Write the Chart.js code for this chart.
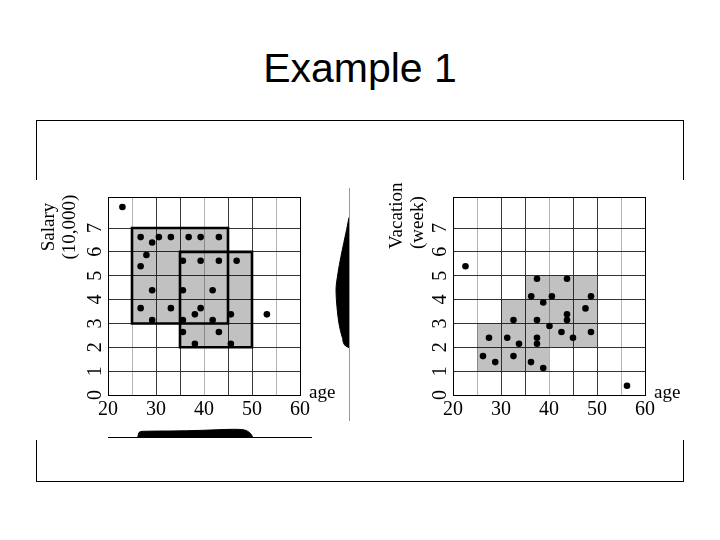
<!DOCTYPE html>
<html>
<head>
<meta charset="utf-8">
<script src="https://cdn.jsdelivr.net/npm/chart.js@4.4.1/dist/chart.umd.min.js"></script>
<style>
  html, body { margin: 0; padding: 0; background: #fff; }
  body { width: 720px; height: 540px; position: relative; overflow: hidden; }
  canvas, .abs { position: absolute; }
  #frame { left: 36px; top: 120px; width: 648px; height: 362px; border: 1.5px solid #000; box-sizing: border-box; }
  #cover { left: 30px; top: 180px; width: 660px; height: 260px; background: #fff; }
  #title { left: 0; top: 48px; width: 720px; text-align: center; font: 41px "Liberation Sans", Arial, sans-serif; line-height: 41px; color: #000; }
  .ytitle { font: 19px "Liberation Serif", "Times New Roman", serif; line-height: 21px; color: #000; white-space: pre; transform: rotate(-90deg); transform-origin: center center; }
  .age { font: 19px "Liberation Serif", "Times New Roman", serif; line-height: 19px; color: #000; }
</style>
</head>
<body>
<div id="frame" class="abs"></div>
<div id="cover" class="abs"></div>
<div id="title" class="abs">Example 1</div>

<canvas id="salary" width="250" height="240" style="left:70px;top:185px;"></canvas>
<canvas id="vacation" width="250" height="240" style="left:415px;top:185px;"></canvas>
<canvas id="ageDens" width="204" height="14" style="left:108px;top:425px;"></canvas>
<canvas id="salDens" width="26" height="233" style="left:327px;top:188px;"></canvas>

<div class="abs ytitle" style="left:8px;top:206px;width:100px;height:42px;text-align:center;">Salary
(10,000)</div>
<div class="abs ytitle" style="left:366px;top:188px;width:80px;height:42px;text-align:left;">Vacation
(week)</div>
<div class="abs age" style="left:309px;top:382px;">age</div>
<div class="abs age" style="left:654px;top:382px;">age</div>

<script>
// ---------- data ----------
const xTickLabels = [20, 30, 40, 50, 60];
const xGrid = [20, 25, 30, 35, 40, 45, 50, 55, 60];
const yTickLabels = [0, 1, 2, 3, 4, 5, 6, 7];
const yTop = 8.3;

const salaryAges   = [23.0, 26.8, 30.6, 33.1, 36.8, 39.3, 43.1, 29.2, 28.0, 26.8, 35.6, 39.3, 43.1, 46.8, 29.2,
                      35.6, 41.8, 26.8, 33.1, 39.3, 38.1, 29.2, 35.6, 41.8, 45.6, 53.1, 35.6, 43.1, 38.1, 45.6];
const salaryValues = [7.88, 6.62, 6.62, 6.62, 6.62, 6.62, 6.62, 6.39, 5.87, 5.40, 5.63, 5.63, 5.63, 5.63, 4.39,
                      4.39, 4.39, 3.64, 3.64, 3.64, 3.38, 3.14, 3.14, 3.14, 3.38, 3.38, 2.64, 2.64, 2.15, 2.15];

const vacationAges   = [22.6, 37.5, 43.75, 36.3, 40.6, 48.75, 38.8, 47.6, 43.75, 43.75, 32.6, 37.5, 40.1, 42.6,
                        48.75, 45.0, 27.5, 31.3, 37.5, 33.75, 37.5, 26.25, 32.6, 28.8, 36.25, 38.8, 56.25];
const vacationValues = [5.40, 4.87, 4.87, 4.14, 4.14, 4.14, 3.88, 3.63, 3.38, 3.14, 3.14, 3.14, 2.89, 2.64,
                        2.64, 2.40, 2.40, 2.40, 2.40, 2.15, 2.15, 1.63, 1.63, 1.38, 1.38, 1.13, 0.39];

// clusters: [xMin, xMax, yMin, yMax]
const salaryClusters = [[25, 45, 3, 7], [35, 50, 2, 6]];
const salaryShade    = [[25, 35, 3, 7], [35, 45, 2, 7], [45, 50, 2, 6]];
const vacationShade  = [[25, 30, 1, 3], [30, 35, 1, 4], [35, 40, 1, 5], [40, 50, 2, 5]];

// marginal densities
const ageDensAges = [26.19, 26.5, 27.3, 32.9, 39.8, 46.0, 48.1, 49.4, 50.0, 50.1];
const ageDensVals = [0, 4.7, 5.7, 6.0, 6.7, 7.7, 7.3, 4.7, 1.3, 0];
const salDensSal  = [2.02, 2.09, 2.44, 3.01, 3.69, 4.39, 5.10, 5.79, 6.90, 7.39];
const salDensVals = [0, 3.3, 6.7, 10, 12, 13, 11, 8, 2.3, 0];

// ---------- helpers ----------
const SERIF = '"Liberation Serif", "Times New Roman", serif';
const SHADE = 'rgba(0,0,0,0.245)';

const yLabelPlugin = {
  id: 'yLabels',
  afterDraw(chart) {
    const s = chart.scales.y, ctx = chart.ctx;
    ctx.save();
    ctx.font = '20px ' + SERIF;
    ctx.fillStyle = '#000';
    ctx.textAlign = 'center';
    ctx.textBaseline = 'middle';
    yTickLabels.forEach(v => {
      ctx.save();
      ctx.translate(s.right - 12.5, s.getPixelForValue(v));
      ctx.rotate(-Math.PI / 2);
      ctx.fillText(String(v), 0, 0);
      ctx.restore();
    });
    ctx.restore();
  }
};

function shadeDatasets(list) {
  return list.map(r => ({
    data: [{x: r[0], y: r[3]}, {x: r[1], y: r[3]}],
    showLine: true, borderWidth: 0, pointRadius: 0,
    backgroundColor: SHADE, fill: {value: r[2]}
  }));
}
function outlineDatasets(list) {
  return list.map(r => ({
    data: [{x: r[0], y: r[2]}, {x: r[1], y: r[2]}, {x: r[1], y: r[3]}, {x: r[0], y: r[3]}, {x: r[0], y: r[2]}],
    showLine: true, borderColor: '#000', borderWidth: 2.6, pointRadius: 0, fill: false,
    borderJoinStyle: 'miter', borderCapStyle: 'square'
  }));
}

function makeMain(id, ages, vals, shade, outlines) {
  const dots = {
    data: ages.map((a, i) => ({x: a, y: vals[i]})),
    pointRadius: 3.3, pointBackgroundColor: '#000', pointBorderWidth: 0, showLine: false
  };
  new Chart(document.getElementById(id), {
    type: 'scatter',
    data: { datasets: [dots, ...outlineDatasets(outlines), ...shadeDatasets(shade)] },
    options: {
      responsive: false, animation: false, devicePixelRatio: 1,
      layout: { padding: { top: 12, right: 20, left: 0, bottom: 0 } },
      plugins: { legend: { display: false }, tooltip: { enabled: false } },
      scales: {
        x: {
          type: 'linear', min: 20, max: 60,
          afterBuildTicks: s => { s.ticks = xGrid.map(v => ({value: v})); },
          afterFit: s => { s.height = 30; s.paddingLeft = 0; s.paddingRight = 0; },
          ticks: {
            autoSkip: false, maxRotation: 0, minRotation: 0, padding: 3,
            color: '#000', font: { family: SERIF, size: 20 },
            callback: v => xTickLabels.includes(v) ? String(v) : ''
          },
          grid: {
            drawTicks: false, lineWidth: 1,
            color: c => (c.tick && (c.tick.value === 60)) ? '#000' :
                        (c.tick && [25, 40, 55].includes(c.tick.value)) ? '#b4b4b4' : '#3a3a3a'
          },
          border: { display: true, color: '#000', width: 1 }
        },
        y: {
          type: 'linear', min: 0, max: yTop,
          afterBuildTicks: s => { s.ticks = yTickLabels.concat([yTop]).map(v => ({value: v})); },
          afterFit: s => { s.width = 38; s.paddingTop = 0; s.paddingBottom = 0; },
          ticks: { display: false },
          grid: {
            drawTicks: false, lineWidth: 1,
            color: c => (c.tick && c.tick.value === yTop) ? '#000' : '#333'
          },
          border: { display: true, color: '#000', width: 1 }
        }
      }
    },
    plugins: [yLabelPlugin]
  });
}

makeMain('salary', salaryAges, salaryValues, salaryShade, salaryClusters);
makeMain('vacation', vacationAges, vacationValues, vacationShade, []);

// horizontal marginal density (age)
new Chart(document.getElementById('ageDens'), {
  type: 'scatter',
  data: { datasets: [{
    data: ageDensAges.map((a, i) => ({x: a, y: ageDensVals[i]})),
    showLine: true, pointRadius: 0, borderColor: '#000', borderWidth: 1,
    backgroundColor: '#000', fill: 'origin', cubicInterpolationMode: 'monotone'
  }]},
  options: {
    responsive: false, animation: false, devicePixelRatio: 1,
    layout: { padding: { top: 2, left: 0, right: 0, bottom: 0 } },
    plugins: { legend: { display: false }, tooltip: { enabled: false } },
    scales: {
      x: { type: 'linear', min: 20, max: 62.5,
           afterFit: s => { s.height = 2; s.paddingLeft = 0; s.paddingRight = 0; },
           ticks: { display: false }, grid: { display: false },
           border: { display: true, color: '#000', width: 1 } },
      y: { type: 'linear', min: 0, max: 10, display: false }
    }
  }
});

// vertical marginal density (salary)
new Chart(document.getElementById('salDens'), {
  type: 'line',
  data: { datasets: [{
    data: salDensSal.map((s, i) => ({x: salDensVals[i], y: s})),
    pointRadius: 0, borderColor: '#000', borderWidth: 1,
    backgroundColor: '#000', fill: 'origin', cubicInterpolationMode: 'monotone'
  }]},
  options: {
    indexAxis: 'y',
    responsive: false, animation: false, devicePixelRatio: 1,
    layout: { padding: { top: 0, left: 2, right: 0, bottom: 0 } },
    plugins: { legend: { display: false }, tooltip: { enabled: false } },
    scales: {
      x: { type: 'linear', min: 0, max: 20, reverse: true, display: false },
      y: { type: 'linear', position: 'right', min: -1, max: 8.6,
           afterFit: s => { s.width = 4; s.paddingTop = 0; s.paddingBottom = 0; },
           ticks: { display: false }, grid: { display: false },
           border: { display: true, color: '#999', width: 1 } }
    }
  }
});
</script>
</body>
</html>
